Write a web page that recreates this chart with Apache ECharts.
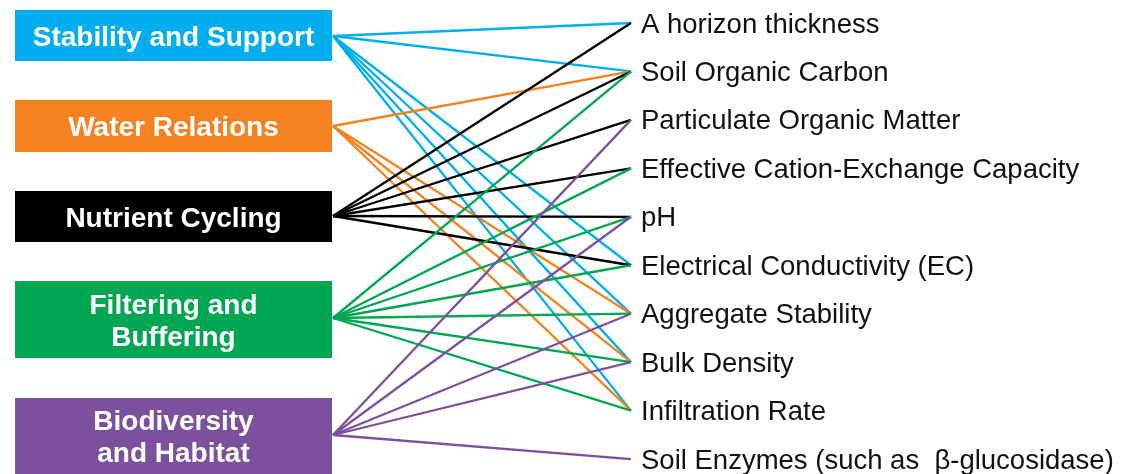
<!DOCTYPE html>
<html>
<head>
<meta charset="utf-8">
<script src="https://cdn.jsdelivr.net/npm/echarts@6/dist/echarts.min.js"></script>
<style>html,body{margin:0;padding:0;background:#fff}#c{width:1131px;height:474px}</style>
</head>
<body>
<div id="c"></div>
<script>
// ---- data ----
const leftNodes = ['Stability and Support', 'Water Relations', 'Nutrient Cycling', 'Filtering and\nBuffering', 'Biodiversity\nand Habitat'];
const rightNodes = ['A horizon thickness', 'Soil Organic Carbon', 'Particulate Organic Matter', 'Effective Cation-Exchange Capacity', 'pH', 'Electrical Conductivity (EC)', 'Aggregate Stability', 'Bulk Density', 'Infiltration Rate', 'Soil Enzymes (such as  \u03b2-glucosidase)'];
const stabilityLinks = [0, 1, 5, 6, 7, 8];
const waterLinks = [1, 6, 7, 8];
const nutrientLinks = [0, 1, 2, 3, 4, 5];
const filteringLinks = [1, 3, 4, 5, 6, 7, 8];
const biodiversityLinks = [2, 4, 6, 7, 9];
const linkSets = [stabilityLinks, waterLinks, nutrientLinks, filteringLinks, biodiversityLinks];

// ---- layout & style ----
const colors = ['#00AEEF', '#F58220', '#000000', '#00A651', '#7B519D'];
const boxes = [[15, 332, 10, 61], [15, 332, 100, 152], [15, 332, 191, 242], [15, 332, 281, 358], [15, 332, 398, 482]];
const anchorY = [36, 126, 216, 318, 435];
const anchorX = 333;
const endX = 631;
const rightTop = 23, rightStep = 48.45;
const rightY = i => rightTop + i * rightStep;
const FONT = 'Liberation Sans';

const series = [];
linkSets.forEach((set, s) => {
  series.push({
    type: 'lines',
    coordinateSystem: 'cartesian2d',
    silent: true,
    z: 2 + s,
    lineStyle: { color: colors[s], width: 2.3, opacity: 1 },
    data: set.map(t => ({ coords: [[anchorX, anchorY[s]], [endX, rightY(t)]] }))
  });
});

series.push({
  type: 'custom',
  coordinateSystem: 'cartesian2d',
  z: 10,
  silent: true,
  data: leftNodes.map((n, i) => [i]),
  renderItem: function (params, api) {
    const i = api.value(0);
    const b = boxes[i];
    const p0 = api.coord([b[0], b[2]]);
    const p1 = api.coord([b[1], b[3]]);
    let ty = (p0[1] + p1[1]) / 2 + 2.5;
    if (i === 4) ty = 438;
    return {
      type: 'group',
      children: [
        { type: 'rect', shape: { x: p0[0], y: p0[1], width: p1[0] - p0[0], height: p1[1] - p0[1] }, style: { fill: colors[i] } },
        { type: 'text', style: { text: leftNodes[i], x: (p0[0] + p1[0]) / 2, y: ty, align: 'center', verticalAlign: 'middle', fill: '#fff', fontFamily: FONT, fontWeight: 'bold', fontSize: 28, lineHeight: 32 } }
      ]
    };
  }
});

series.push({
  type: 'custom',
  coordinateSystem: 'cartesian2d',
  z: 10,
  silent: true,
  data: rightNodes.map((n, i) => [i]),
  renderItem: function (params, api) {
    const i = api.value(0);
    const p = api.coord([641, rightY(i) + 2]);
    return { type: 'text', style: { text: rightNodes[i], x: p[0], y: p[1], align: 'left', verticalAlign: 'middle', fill: '#111', fontFamily: FONT, fontSize: 27.5 } };
  }
});

const chart = echarts.init(document.getElementById('c'), null, { renderer: 'canvas' });
chart.setOption({
  animation: false,
  backgroundColor: '#fff',
  grid: { left: 0, right: 0, top: 0, bottom: 0 },
  xAxis: { type: 'value', min: 0, max: 1131, show: false },
  yAxis: { type: 'value', min: 0, max: 474, inverse: true, show: false },
  series: series
});
</script>
</body>
</html>
